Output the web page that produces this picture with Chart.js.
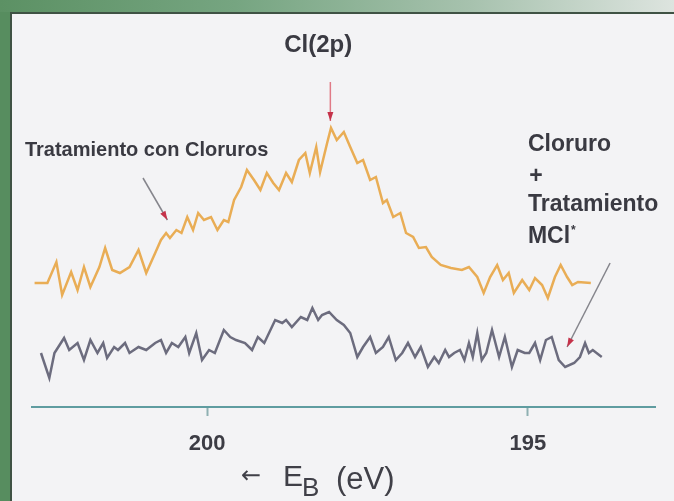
<!DOCTYPE html>
<html>
<head>
<meta charset="utf-8">
<script src="https://cdn.jsdelivr.net/npm/chart.js@4.4.1/dist/chart.umd.min.js"></script>
<style>
  html, body { margin: 0; padding: 0; }
  body {
    width: 674px; height: 501px; overflow: hidden; position: relative;
    background: linear-gradient(to right, #5c9164 0%, #76a581 35%, #a7c2ae 70%, #dde4df 100%);
  }
  #marco { position: absolute; left: 0; top: 12px; width: 10px; height: 489px; background: #578d5f; }
  #panel {
    position: absolute; left: 10px; top: 12px; width: 664px; height: 489px;
    background: #f3f3f5; box-shadow: inset 2px 2px 0 #3f5244;
  }
</style>
</head>
<body>
<div id="marco"></div>
<div id="panel"><canvas id="chartXPS" width="664" height="489"></canvas></div>
<script>
// Espectro Cl(2p) - tratamiento con cloruros (naranja)
const energiaTratamiento = [
  202.69, 202.49, 202.35, 202.26, 202.12, 202.02, 201.92, 201.82, 201.68, 201.59,
  201.48, 201.36, 201.21, 201.07, 200.95, 200.81, 200.72, 200.64, 200.58, 200.48,
  200.40, 200.31, 200.22, 200.14, 200.05, 199.94, 199.84, 199.74, 199.67, 199.58,
  199.47, 199.38, 199.27, 199.17, 199.07, 198.97, 198.88, 198.77, 198.68, 198.57,
  198.47, 198.40, 198.30, 198.24, 198.13, 198.07, 197.98, 197.87, 197.77, 197.66,
  197.57, 197.46, 197.37, 197.26, 197.20, 197.10, 196.99, 196.90, 196.79, 196.70,
  196.59, 196.50, 196.36, 196.20, 196.03, 195.92, 195.79, 195.69, 195.59, 195.48,
  195.39, 195.30, 195.22, 195.09, 194.98, 194.89, 194.78, 194.69, 194.58, 194.49,
  194.39, 194.31, 194.22, 194.02
];
const cuentasTratamiento = [
  12.4, 12.4, 14.5, 11.2, 13.5, 11.7, 14.0, 12.0, 14.0, 15.9,
  13.7, 13.4, 14.0, 15.7, 13.4, 15.4, 16.7, 17.4, 16.9, 17.7,
  17.4, 19.0, 17.7, 19.4, 18.7, 19.0, 17.7, 18.7, 18.5, 20.7,
  22.0, 23.7, 22.7, 21.7, 23.4, 22.4, 21.7, 23.4, 22.5, 24.7,
  25.4, 23.4, 26.0, 23.5, 26.4, 27.9, 26.7, 27.5, 26.0, 24.4,
  24.7, 22.7, 23.0, 20.4, 20.7, 19.0, 19.4, 17.4, 17.0, 15.9,
  16.0, 15.0, 14.2, 13.9, 13.7, 14.0, 13.0, 11.4, 13.0, 14.2,
  12.7, 13.4, 11.4, 12.7, 11.7, 12.9, 12.2, 10.9, 13.0, 14.2,
  13.0, 12.2, 12.5, 12.4
];

// Cloruro + tratamiento MCl (gris)
const energiaCloruroMCl = [
  202.59, 202.46, 202.38, 202.23, 202.15, 202.02, 201.92, 201.82, 201.71, 201.62,
  201.56, 201.45, 201.39, 201.28, 201.21, 201.07, 200.95, 200.81, 200.72, 200.64,
  200.55, 200.45, 200.34, 200.28, 200.17, 200.08, 199.97, 199.88, 199.74, 199.64,
  199.55, 199.41, 199.30, 199.21, 199.11, 198.94, 198.83, 198.77, 198.68, 198.54,
  198.44, 198.36, 198.27, 198.21, 198.10, 197.98, 197.87, 197.77, 197.66, 197.57,
  197.46, 197.37, 197.26, 197.17, 197.06, 196.96, 196.87, 196.76, 196.67, 196.56,
  196.46, 196.39, 196.29, 196.23, 196.15, 196.06, 195.99, 195.92, 195.86, 195.79,
  195.72, 195.65, 195.56, 195.45, 195.36, 195.25, 195.16, 195.05, 194.98, 194.89,
  194.81, 194.72, 194.63, 194.52, 194.42, 194.28, 194.19, 194.11, 194.05, 193.99,
  193.85
];
const cuentasCloruroMCl = [
  5.4, 2.9, 5.4, 6.9, 5.7, 6.4, 4.7, 6.7, 5.4, 6.4,
  4.9, 6.0, 5.7, 6.4, 5.4, 6.0, 5.7, 6.4, 6.7, 5.4,
  6.4, 6.0, 7.0, 5.4, 7.4, 4.7, 5.7, 5.4, 7.7, 7.0,
  6.7, 6.4, 5.7, 7.0, 6.4, 8.7, 8.4, 8.7, 8.0, 9.0,
  8.7, 9.9, 8.7, 9.2, 9.5, 8.7, 8.2, 7.4, 5.0, 6.0,
  7.0, 5.4, 6.0, 7.0, 4.7, 5.4, 6.4, 5.0, 6.0, 4.0,
  5.0, 4.4, 5.7, 5.0, 5.4, 5.7, 4.7, 6.4, 5.0, 7.4,
  4.7, 5.4, 7.7, 5.0, 7.0, 4.0, 5.7, 5.4, 5.4, 6.4,
  4.7, 6.7, 7.0, 4.7, 4.0, 4.4, 5.0, 6.4, 5.4, 5.7,
  5.0
];

const ticksEnergia = [200, 195];

function puntos(xs, ys) {
    return xs.map((e, i) => ({ x: e, y: ys[i] }));
}

function flecha(ctx, x1, y1, x2, y2, colorLinea) {
    ctx.strokeStyle = colorLinea;
    ctx.lineWidth = 1.5;
    ctx.beginPath();
    ctx.moveTo(x1, y1);
    ctx.lineTo(x2, y2);
    ctx.stroke();
    const ang = Math.atan2(y2 - y1, x2 - x1);
    ctx.fillStyle = '#c5324a';
    ctx.beginPath();
    ctx.moveTo(x2, y2);
    ctx.lineTo(x2 - 9 * Math.cos(ang) + 3 * Math.sin(ang), y2 - 9 * Math.sin(ang) - 3 * Math.cos(ang));
    ctx.lineTo(x2 - 9 * Math.cos(ang) - 3 * Math.sin(ang), y2 - 9 * Math.sin(ang) + 3 * Math.cos(ang));
    ctx.closePath();
    ctx.fill();
}

const anotaciones = {
    id: 'anotaciones',
    afterDraw(chart) {
        const ctx = chart.ctx;
        const x = chart.scales.x, y = chart.scales.y;
        const px = v => x.getPixelForValue(v);
        const py = v => y.getPixelForValue(v);
        ctx.save();

        // flechas
        flecha(ctx, px(198.08), py(32.5), px(198.08), py(28.6), '#e07a86');
        flecha(ctx, px(201.00), py(22.9), px(200.62), py(18.7), '#85858c');
        flecha(ctx, px(193.72), py(14.4), px(194.39), py(6.0), '#85858c');

        // textos
        ctx.fillStyle = '#3a3a42';
        ctx.textBaseline = 'middle';
        ctx.textAlign = 'center';
        ctx.font = 'bold 24px "Liberation Sans"';
        ctx.fillText('Cl(2p)', px(198.27), py(36.2));

        ctx.textAlign = 'left';
        ctx.font = 'bold 20px "Liberation Sans"';
        ctx.fillText('Tratamiento con Cloruros', px(202.84), py(25.7));

        ctx.font = 'bold 23px "Liberation Sans"';
        ctx.fillText('Cloruro', px(195.0), py(26.2));
        ctx.fillText('+', px(194.98), py(23.0));
        ctx.fillText('Tratamiento', px(195.0), py(20.2));
        ctx.fillText('MCl', px(195.0), py(17.0));
        const wMCl = ctx.measureText('MCl').width;
        ctx.font = 'bold 12px "Liberation Sans"';
        ctx.fillText('*', px(195.0) + wMCl + 1, py(17.0) - 6);

        // titulo del eje: <- E_B (eV)
        const base = x.top + 71;
        ctx.fillStyle = '#404048';
        ctx.font = '24px "DejaVu Sans"';
        ctx.fillText('\u2190', 231, base - 1);
        ctx.font = '30px "Liberation Sans"';
        ctx.fillText('E', 273, base);
        ctx.font = '26px "Liberation Sans"';
        ctx.fillText('B', 292, base + 11);
        ctx.font = '31px "Liberation Sans"';
        ctx.fillText('(eV)', 326, base + 2);
        ctx.restore();
    }
};

function renderiza_espectro() {
    const ctx = document.getElementById('chartXPS').getContext('2d');

    new Chart(ctx, {
        type: 'line',
        data: {
            datasets: [{
                label: 'Tratamiento con Cloruros',
                data: puntos(energiaTratamiento, cuentasTratamiento),
                borderColor: '#e9ad55',
                borderWidth: 2.5,
                pointRadius: 0,
                tension: 0,
            }, {
                label: 'Cloruro + Tratamiento MCl',
                data: puntos(energiaCloruroMCl, cuentasCloruroMCl),
                borderColor: '#6c6c7e',
                borderWidth: 2.5,
                pointRadius: 0,
                tension: 0,
            }]
        },
        options: {
            responsive: false,
            animation: false,
            devicePixelRatio: 1,
            layout: { padding: { left: 22, right: 19, top: 0, bottom: 0 } },
            plugins: {
                legend: { display: false },
                tooltip: { enabled: false }
            },
            scales: {
                x: {
                    type: 'linear',
                    reverse: true,
                    min: 193.02,
                    max: 202.73,
                    afterBuildTicks: axis => { axis.ticks = ticksEnergia.map(v => ({ value: v })); },
                    afterFit: scale => { scale.height = 94; },
                    border: { display: true, color: '#5f9ca0', width: 2 },
                    grid: { drawOnChartArea: false, drawTicks: true, tickLength: 9, color: '#8fb0b2', tickWidth: 2 },
                    ticks: {
                        padding: 15,
                        color: '#3c3c44',
                        font: { family: 'Liberation Sans', size: 22, weight: 'bold' },
                        callback: v => String(v)
                    }
                },
                y: {
                    display: false,
                    min: 0,
                    max: 39.5
                }
            }
        },
        plugins: [anotaciones]
    });
}

renderiza_espectro();
</script>
</body>
</html>
